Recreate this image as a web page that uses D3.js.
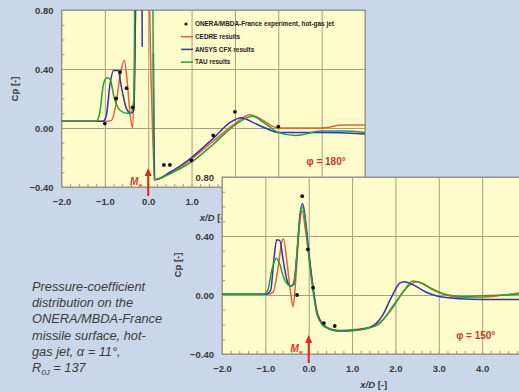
<!DOCTYPE html>
<html>
<head>
<meta charset="utf-8">
<script src="https://cdn.jsdelivr.net/npm/d3@7"></script>
<style>
  body { margin: 0; background: #c9d7e9; }
  svg { display: block; font-family: "Liberation Sans", Arial, sans-serif; }
</style>
</head>
<body>
<svg width="519" height="392"></svg>
<script>
// ---- data ----
const xTicks = [-2, -1, 0, 1, 2, 3, 4, 5];
const yTicks = [-0.4, 0, 0.4, 0.8];
const legendLabels = ["ONERA/MBDA-France experiment, hot-gas jet", "CEDRE results", "ANSYS CFX results", "TAU results"];
const seriesColors = ["#111111", "#e2623a", "#2c36ad", "#2f9a3c"];

// phi = 180 deg (upper chart); null = gap in the line
const exp180 = [[-1.0, 0.03], [-0.74, 0.2], [-0.65, 0.38], [-0.5, 0.27], [-0.36, 0.14], [0.36, -0.25], [0.5, -0.25],
  [1.0, -0.22], [1.5, -0.05], [2.0, 0.11], [3.0, 0.01]];
const cedre180 = [[-2, 0.045], [-1.0, 0.045], [-0.85, 0.05], [-0.75, 0.15], [-0.65, 0.35], [-0.55, 0.46], [-0.48, 0.3],
  [-0.42, 0.1], [-0.36, 0.0], [-0.31, 0.5], [-0.27, 1.2], [-0.01, 1.2], [0.07, 0.3], [0.15, -0.35], [0.5, -0.31],
  [1.0, -0.21], [1.5, -0.09], [2.0, 0.03], [2.35, 0.09], [2.6, 0.06], [3.0, 0.0], [3.5, 0.0], [4.0, 0.0], [4.5, 0.02], [5.0, 0.02]];
const ansys180 = [[-2, 0.045], [-1.05, 0.045], [-0.97, 0.08], [-0.88, 0.3], [-0.8, 0.39], [-0.7, 0.39], [-0.6, 0.25],
  [-0.5, 0.13], [-0.4, 0.1], [-0.33, 0.12], [-0.28, 1.2], null, [-0.141, 0.82], [-0.139, 0.55], null,
  [0.12, 0.51], [0.15, -0.35], [0.5, -0.3], [1.0, -0.2], [1.5, -0.07], [1.9, 0.04], [2.15, 0.07], [2.4, 0.04],
  [2.7, 0.0], [3.0, -0.03], [4.0, -0.03], [5.0, -0.04]];
const tau180 = [[-2, 0.045], [-1.2, 0.045], [-1.12, 0.1], [-1.03, 0.3], [-0.95, 0.34], [-0.88, 0.33], [-0.78, 0.2],
  [-0.65, 0.12], [-0.5, 0.1], [-0.4, 0.1], [-0.33, 0.2], [-0.3, 1.2], [0.1, 1.2], [0.13, -0.35], [0.5, -0.31],
  [1.0, -0.23], [1.5, -0.11], [2.0, 0.02], [2.4, 0.08], [2.7, 0.03], [3.0, -0.03], [3.4, -0.05], [4.0, -0.02],
  [4.5, -0.02], [5.0, -0.03]];

// phi = 150 deg (lower chart)
const exp150 = [[-0.27, 0.0], [-0.15, 0.67], [-0.02, 0.31], [0.1, 0.05], [0.35, -0.19], [0.6, -0.21]];
const cedre150 = [[-2, 0.005], [-0.95, 0.005], [-0.82, 0.02], [-0.7, 0.2], [-0.62, 0.36], [-0.58, 0.38], [-0.5, 0.22],
  [-0.42, 0.02], [-0.36, -0.08], [-0.3, 0.1], [-0.22, 0.45], [-0.15, 0.57], [-0.08, 0.45], [0.0, 0.28], [0.1, 0.05],
  [0.2, -0.12], [0.35, -0.2], [0.6, -0.24], [1.0, -0.235], [1.4, -0.22], [1.7, -0.17], [2.0, -0.05], [2.3, 0.06],
  [2.5, 0.09], [2.8, 0.05], [3.0, 0.02], [3.5, -0.015], [4.0, -0.015], [4.5, 0.0], [5.0, 0.02]];
const ansys150 = [[-2, 0.005], [-1.0, 0.005], [-0.88, 0.03], [-0.8, 0.25], [-0.74, 0.375], [-0.67, 0.37], [-0.58, 0.22],
  [-0.5, 0.1], [-0.43, 0.06], [-0.35, 0.07], [-0.28, 0.25], [-0.2, 0.55], [-0.14, 0.62], [-0.07, 0.5], [0.0, 0.3],
  [0.1, 0.05], [0.2, -0.13], [0.4, -0.22], [0.7, -0.245], [1.0, -0.24], [1.4, -0.22], [1.7, -0.14], [1.9, -0.02],
  [2.1, 0.08], [2.2, 0.09], [2.4, 0.07], [2.7, 0.02], [3.0, -0.01], [3.5, -0.025], [4.0, -0.03], [5.0, -0.03]];
const tau150 = [[-2, 0.005], [-1.05, 0.005], [-0.95, 0.03], [-0.85, 0.17], [-0.75, 0.25], [-0.68, 0.22], [-0.58, 0.12],
  [-0.48, 0.07], [-0.4, 0.06], [-0.32, 0.12], [-0.24, 0.4], [-0.16, 0.6], [-0.1, 0.55], [-0.03, 0.35], [0.08, 0.07],
  [0.2, -0.14], [0.4, -0.22], [0.8, -0.245], [1.2, -0.235], [1.6, -0.2], [1.9, -0.1], [2.2, 0.03], [2.4, 0.095],
  [2.6, 0.08], [2.9, 0.03], [3.2, 0.0], [3.6, -0.01], [4.0, -0.005], [4.5, 0.0], [5.0, 0.01]];

const noteLines = ["Pressure-coefficient", "distribution on the", "ONERA/MBDA-France", "missile surface, hot-", "gas jet, \u03b1 = 11\u00b0,"];

const svg = d3.select("svg");
const grid = "#a3a184", red = "#c43a2a", axisText = "#3a3a3a";

svg.append("rect").attr("width", 519).attr("height", 392).attr("fill", "#c9d7e9");

function drawChart(c) {
    const x = d3.scaleLinear().domain([-2, 5]).range([c.left, c.right]);
    const y = d3.scaleLinear().domain([-0.4, 0.8]).range([c.bottom, c.top]);
    const g = svg.append("g");

    g.append("rect")
        .attr("x", c.left).attr("y", c.top)
        .attr("width", c.right - c.left).attr("height", c.bottom - c.top)
        .attr("fill", "#fefccb");

    // axes with d3 axis generators: major grid + minor ticks
    const minorX = d3.range(-2, 5.001, 0.2);
    const minorY = d3.range(-0.4, 0.801, 0.1);
    g.append("g").attr("transform", `translate(0,${c.bottom})`)
        .call(d3.axisBottom(x).tickValues(minorX).tickSize(-3).tickFormat(""))
        .call(a => a.select(".domain").remove())
        .call(a => a.selectAll("line").attr("stroke", "#9a9a9a"));
    g.append("g").attr("transform", `translate(${c.left},0)`)
        .call(d3.axisLeft(y).tickValues(minorY).tickSize(-3).tickFormat(""))
        .call(a => a.select(".domain").remove())
        .call(a => a.selectAll("line").attr("stroke", "#9a9a9a"));

    g.append("g").attr("transform", `translate(0,${c.bottom})`)
        .call(d3.axisBottom(x).tickValues(xTicks).tickSize(-(c.bottom - c.top)).tickPadding(11).tickFormat(d3.format(".1f")))
        .call(a => a.select(".domain").remove())
        .call(a => a.selectAll("line").attr("stroke", grid))
        .call(a => a.selectAll("text").attr("fill", axisText).attr("font-size", 9.5).attr("font-weight", "bold")
            .attr("font-family", "Liberation Sans, Arial"));
    g.append("g").attr("transform", `translate(${c.left},0)`)
        .call(d3.axisLeft(y).tickValues(yTicks).tickSize(-(c.right - c.left)).tickPadding(8).tickFormat(d3.format(".2f")))
        .call(a => a.select(".domain").remove())
        .call(a => a.selectAll("line").attr("stroke", grid))
        .call(a => a.selectAll("text").attr("fill", axisText).attr("font-size", 9.5).attr("font-weight", "bold")
            .attr("font-family", "Liberation Sans, Arial"));

    g.append("rect")
        .attr("x", c.left).attr("y", c.top)
        .attr("width", c.right - c.left).attr("height", c.bottom - c.top)
        .attr("fill", "none").attr("stroke", "#8f8f8f");

    // axis titles
    const xt = g.append("text").attr("x", (c.left + c.right) / 2).attr("y", c.bottom + 34)
        .attr("text-anchor", "middle").attr("font-size", 9.5).attr("font-weight", "bold").attr("fill", axisText);
    xt.append("tspan").attr("font-style", "italic").text("x/D");
    xt.append("tspan").text(" [-]");
    const yt = g.append("text").attr("transform", `translate(${c.ytX},${c.ytY}) rotate(-90)`)
        .attr("text-anchor", "middle").attr("font-size", 9.5).attr("font-weight", "bold").attr("fill", axisText);
    yt.append("tspan").text("Cp");
    yt.append("tspan").text(" [-]");

    // series
    const clipId = "clip" + c.id;
    g.append("clipPath").attr("id", clipId).append("rect")
        .attr("x", c.left).attr("y", c.top)
        .attr("width", c.right - c.left).attr("height", c.bottom - c.top);
    const line = d3.line().defined(d => d !== null).curve(d3.curveMonotoneX)
        .x(d => x(d[0])).y(d => y(d[1]));
    const plot = g.append("g").attr("clip-path", `url(#${clipId})`);
    c.series.forEach((s, i) => {
        plot.append("path").datum(s).attr("d", line)
            .attr("fill", "none").attr("stroke", seriesColors[i + 1]).attr("stroke-width", 1.5);
    });
    plot.selectAll("circle").data(c.exp).join("circle")
        .attr("cx", d => x(d[0])).attr("cy", d => y(d[1])).attr("r", 1.9).attr("fill", "#111");

    // free-stream arrow at x/D = 0
    const ax = x(0);
    g.append("line").attr("x1", ax).attr("x2", ax).attr("y1", c.bottom + 9).attr("y2", c.bottom - 12)
        .attr("stroke", "#e0261c").attr("stroke-width", 2);
    g.append("path")
        .attr("d", `M${ax - 3.5},${c.bottom - 11} L${ax},${c.bottom - 19} L${ax + 3.5},${c.bottom - 11} Z`)
        .attr("fill", "#e0261c");
    const m = g.append("text").attr("x", ax - 12).attr("y", c.bottom - 2).attr("text-anchor", "middle")
        .attr("font-size", 10).attr("font-weight", "bold").attr("font-style", "italic").attr("fill", "#d6392a");
    m.append("tspan").text("M");
    m.append("tspan").attr("font-size", 6).attr("dy", 2).text("\u221e");

    g.append("text").attr("x", x(c.phiX)).attr("y", y(c.phiY))
        .attr("font-size", 10).attr("font-weight", "bold").attr("fill", red)
        .text(c.phi);

    return { x, y, g };
}

const upper = drawChart({
    id: "a", left: 61.5, right: 365, top: 10, bottom: 187, ytX: 18, ytY: 89,
    series: [cedre180, ansys180, tau180], exp: exp180, phi: "\u03c6 = 180\u00b0", phiX: 3.65, phiY: -0.25
});

// legend for upper chart
const lg = upper.g.append("g");
legendLabels.forEach((t, i) => {
    const ly = 24 + i * 12.7;
    if (i === 0) {
        lg.append("circle").attr("cx", 186).attr("cy", ly).attr("r", 1.6).attr("fill", seriesColors[0]);
    } else {
        lg.append("line").attr("x1", 181).attr("x2", 193).attr("y1", ly).attr("y2", ly)
            .attr("stroke", seriesColors[i]).attr("stroke-width", 1.5);
    }
    lg.append("text").attr("x", 195).attr("y", ly + 2.3).attr("font-size", 6.4).attr("font-weight", "bold")
        .attr("fill", "#222").text(t);
});

drawChart({
    id: "b", left: 222, right: 525.5, top: 177, bottom: 354, ytX: 181, ytY: 265,
    series: [cedre150, ansys150, tau150], exp: exp150, phi: "\u03c6 = 150\u00b0", phiX: 3.4, phiY: -0.3
});

// caption
const note = svg.append("g").attr("font-size", 12.8).attr("font-style", "italic").attr("fill", "#3c3c3c");
noteLines.forEach((t, i) => {
    note.append("text").attr("x", 32).attr("y", 291 + i * 16.2).text(t);
});
const last = note.append("text").attr("x", 32).attr("y", 291 + 5 * 16.2);
last.append("tspan").text("R");
last.append("tspan").attr("font-size", 8).attr("dy", 3).text("0J");
last.append("tspan").attr("dy", -3).text(" = 137");
</script>
</body>
</html>
